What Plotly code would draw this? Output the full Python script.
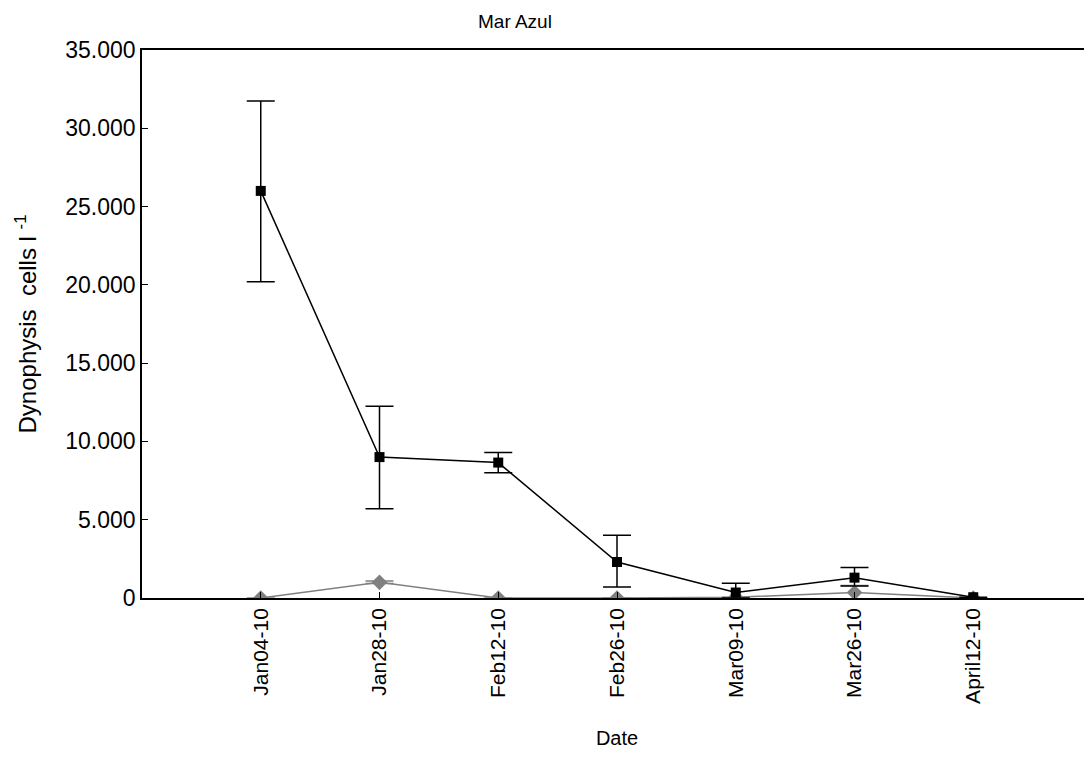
import plotly.graph_objects as go

dates = ["Jan04-10", "Jan28-10", "Feb12-10", "Feb26-10", "Mar09-10", "Mar26-10", "April12-10"]
black_vals = [26000, 9000, 8650, 2300, 350, 1300, 50]
black_err_plus = [5750, 3250, 650, 1700, 600, 650, 0]
black_err_minus = [5800, 3300, 650, 1600, 350, 530, 0]
grey_vals = [0, 1000, 0, 0, 50, 350, 0]
grey_err_plus = [0, 80, 0, 0, 0, 450, 0]
grey_err_minus = [0, 80, 0, 0, 0, 450, 0]
y_tickvals = [0, 5000, 10000, 15000, 20000, 25000, 30000, 35000]
y_ticktext = ["0", "5.000", "10.000", "15.000", "20.000", "25.000", "30.000", "35.000"]

xs = list(range(len(dates)))

fig = go.Figure()
fig.add_trace(go.Scatter(
    x=xs, y=grey_vals, mode="lines+markers",
    line=dict(color="#808080", width=1.5),
    marker=dict(symbol="diamond", size=12, color="#808080"),
    error_y=dict(type="data", array=grey_err_plus, arrayminus=grey_err_minus,
                 color="#808080", width=14, thickness=1.5),
    showlegend=False,
))
fig.add_trace(go.Scatter(
    x=xs, y=black_vals, mode="lines+markers",
    line=dict(color="black", width=1.5),
    marker=dict(symbol="square", size=10, color="black"),
    error_y=dict(type="data", array=black_err_plus, arrayminus=black_err_minus,
                 color="black", width=14, thickness=1.5),
    showlegend=False,
))

font = "Liberation Sans, Arial, sans-serif"
fig.update_layout(
    width=1084, height=742,
    margin=dict(l=134, r=0, t=42, b=152),
    paper_bgcolor="white", plot_bgcolor="white",
    font=dict(family=font, color="black", size=20),
    xaxis=dict(
        range=[-1, 7], tickmode="array", tickvals=xs, ticktext=dates,
        tickangle=-90, ticks="inside", ticklen=6, tickcolor="black",
        showline=True, linecolor="black", linewidth=1.5, mirror=True,
        showgrid=False, zeroline=False,
        title=dict(text="Date", font=dict(size=20), standoff=28),
        tickfont=dict(size=21),
    ),
    yaxis=dict(
        range=[0, 35000], tickmode="array", tickvals=y_tickvals, ticktext=y_ticktext,
        ticks="inside", ticklen=6, tickcolor="black",
        showline=True, linecolor="black", linewidth=1.5,
        showgrid=False, zeroline=False,
        title=dict(text="Dynophysis\u00a0\u00a0cells\u00a0l\u00a0<sup>-1</sup>", font=dict(size=24), standoff=22),
        tickfont=dict(size=23),
    ),
    annotations=[dict(
        text="Mar Azul", xref="paper", yref="paper", x=0.393, y=1.0,
        yshift=29, showarrow=False, font=dict(size=19), xanchor="center", yanchor="middle",
    )],
)

fig.write_html("out.html")
